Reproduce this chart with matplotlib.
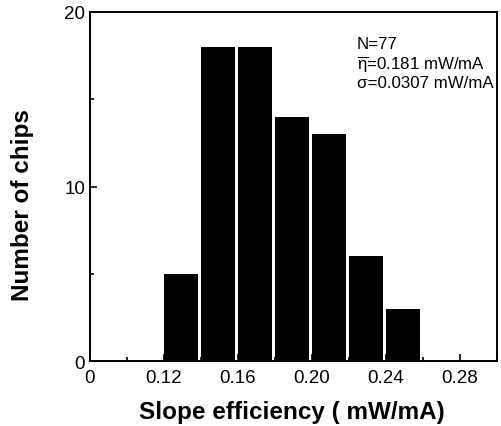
import matplotlib
matplotlib.use("Agg")
import matplotlib.pyplot as plt
from matplotlib.ticker import MultipleLocator

# histogram bins (left edges, mW/mA) and counts
bin_left = [0.12, 0.14, 0.16, 0.18, 0.20, 0.22, 0.24]
counts = [5, 18, 18, 14, 13, 6, 3]
bin_width = 0.0186

xtick_pos = [0.08, 0.12, 0.16, 0.20, 0.24, 0.28]
xtick_labels = ["0", "0.12", "0.16", "0.20", "0.24", "0.28"]
ytick_pos = [0, 10, 20]

stats_lines = ["N=77", r"$\overline{\eta}$=0.181 mW/mA", "\u03c3=0.0307 mW/mA"]

plt.rcParams['font.family'] = ['Liberation Sans', 'DejaVu Sans']
plt.rcParams['mathtext.fontset'] = 'custom'
plt.rcParams['mathtext.rm'] = 'Liberation Sans'
plt.rcParams['mathtext.it'] = 'Liberation Sans'

fig = plt.figure(figsize=(5.01, 4.27), dpi=100)
ax = fig.add_axes([0.1796, 0.152, 0.8124, 0.8176])

ax.bar(bin_left, counts, width=bin_width, align='edge', color='black', linewidth=0)

ax.set_xlim(0.08, 0.30)
ax.set_ylim(0, 20)
ax.set_xticks(xtick_pos)
ax.set_xticklabels(xtick_labels)
ax.set_yticks(ytick_pos)
ax.yaxis.set_minor_locator(MultipleLocator(5))
ax.xaxis.set_minor_locator(MultipleLocator(0.02))

ax.tick_params(direction='in', which='both', labelsize=13.5, width=1.2)
ax.tick_params(which='major', length=5)
ax.tick_params(which='minor', length=3)
ax.tick_params(axis='x', pad=6)
for sp in ax.spines.values():
    sp.set_linewidth(1.4)

ax.set_xlabel("Slope efficiency ( mW/mA)", fontsize=17.5, fontweight='bold')
ax.set_ylabel("Number of chips", fontsize=17.5, fontweight='bold')
ax.xaxis.set_label_coords(0.496, -0.143)
ax.xaxis.label.set_va('center')
ax.yaxis.set_label_coords(-0.165, 0.45)
ax.yaxis.label.set_va('center')

for i, line in enumerate(stats_lines):
    ax.text(0.655, 0.911 - i * 0.057, line, transform=ax.transAxes,
            fontsize=12.2, va='center', ha='left')

fig.savefig("out.png", dpi=100)
